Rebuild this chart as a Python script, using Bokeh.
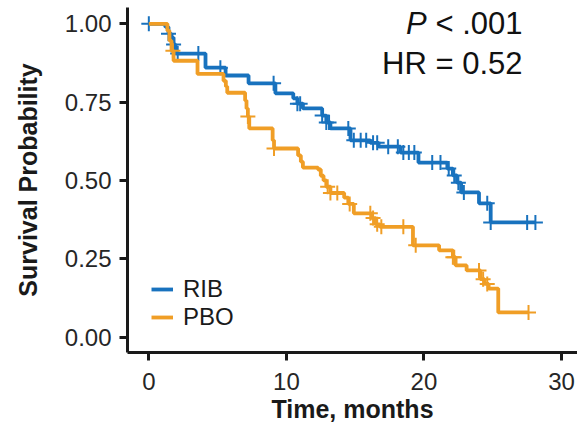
import numpy as np
from bokeh.plotting import figure
from bokeh.models import Range1d, Legend, LegendItem, Label, FixedTicker, NumeralTickFormatter
from bokeh.embed import file_html
from bokeh.resources import INLINE

# ---- data ----
rib_time = [0, 1.2, 1.43, 1.65, 1.8, 1.94, 4.12, 5.58, 7.25, 9.2, 10.5, 10.8, 11.2,
            12.6, 12.9, 13.2, 14.66, 16.1, 16.7, 18.3, 19.6, 21.7, 22.1, 22.4, 22.7,
            24.0, 24.85]
rib_surv = [1.0, 0.99, 0.968, 0.956, 0.934, 0.905, 0.86, 0.835, 0.81, 0.778, 0.762,
            0.745, 0.73, 0.707, 0.685, 0.666, 0.628, 0.62, 0.608, 0.589, 0.557, 0.538,
            0.516, 0.493, 0.462, 0.427, 0.366]
rib_end = 28.1
rib_cens = [0, 1.43, 1.8, 2.1, 3.6, 5.2, 9.07, 10.8, 11.0, 12.6, 12.9, 13.1, 14.5,
            14.9, 15.4, 15.8, 16.3, 16.6, 17.4, 18.1, 18.5, 18.9, 19.3, 20.6, 21.2,
            21.8, 22.2, 22.5, 22.9, 24.6, 24.85, 27.5, 28.1]

pbo_time = [0, 1.35, 1.5, 1.65, 1.8, 3.54, 5.43, 5.6, 5.7, 7.0, 7.1, 7.2, 7.3, 9.0,
            9.1, 10.85, 11.05, 11.2, 12.3, 12.5, 12.7, 12.9, 13.2, 14.2, 14.5, 14.9,
            16.2, 16.5, 16.8, 19.2, 21.1, 22.1, 22.3, 23.1, 24.1, 24.4, 24.7, 25.4]
pbo_surv = [1.0, 0.978, 0.946, 0.914, 0.882, 0.84, 0.818, 0.80, 0.78, 0.755, 0.73,
            0.704, 0.666, 0.628, 0.602, 0.58, 0.56, 0.541, 0.535, 0.515, 0.50, 0.48,
            0.46, 0.445, 0.425, 0.395, 0.38, 0.36, 0.352, 0.293, 0.277, 0.255, 0.229,
            0.213, 0.185, 0.17, 0.155, 0.079]
pbo_end = 27.6
pbo_cens = [1.75, 7.2, 9.1, 13.0, 13.2, 13.7, 14.6, 16.1, 16.3, 16.6, 16.9, 18.5,
            19.4, 22.1, 22.2, 24.0, 24.3, 24.6, 27.6]

groups = ["RIB", "PBO"]
x_ticks = [0, 10, 20, 30]
y_ticks = [0, 0.25, 0.5, 0.75, 1.0]
p_text = "P"
p_rest = "< .001"
hr_text = "HR = 0.52"

BLUE = "#1872BE"
ORANGE = "#F09E26"
FONT = "Liberation Sans"


def step_xy(times, surv, end):
    return list(times) + [end], list(surv) + [surv[-1]]


def cens_y(times, surv, cens):
    idx = np.searchsorted(np.array(times), np.array(cens), side="right") - 1
    return [surv[i] for i in idx]


p = figure(width=577, height=433, output_backend="svg", toolbar_location=None,
           x_range=Range1d(-1.55, 31.16), y_range=Range1d(-0.049, 1.052),
           min_border_left=127, min_border_right=0, min_border_top=7,
           min_border_bottom=81)

p.xgrid.visible = False
p.ygrid.visible = False
p.outline_line_color = None
p.background_fill_color = "white"
p.border_fill_color = "white"

renderers = []
for times, surv, end, cens, col in [(rib_time, rib_surv, rib_end, rib_cens, BLUE),
                                    (pbo_time, pbo_surv, pbo_end, pbo_cens, ORANGE)]:
    sx, sy = step_xy(times, surv, end)
    r = p.step(sx, sy, mode="after", line_width=3.8, line_color=col)
    p.scatter(cens, cens_y(times, surv, cens), marker="cross", size=15,
              line_width=2, line_color=col)
    renderers.append(r)

# axes
for ax in (p.xaxis[0], p.yaxis[0]):
    ax.axis_line_width = 3
    ax.axis_line_color = "#1a1a1a"
    ax.major_tick_line_width = 3
    ax.major_tick_line_color = "#1a1a1a"
    ax.major_tick_out = 8
    ax.major_tick_in = 0
    ax.minor_tick_line_color = None
    ax.major_label_text_font = FONT
    ax.major_label_text_font_size = "24px"
    ax.major_label_text_color = "#262626"
    ax.axis_label_text_font = FONT
    ax.axis_label_text_font_size = "25px"
    ax.axis_label_text_font_style = "bold"
    ax.axis_label_text_color = "#1a1a1a"

p.xaxis.ticker = FixedTicker(ticks=x_ticks)
p.yaxis.ticker = FixedTicker(ticks=y_ticks)
p.yaxis.formatter = NumeralTickFormatter(format="0.00")
p.xaxis.axis_label = "Time, months"
p.yaxis.axis_label = "Survival Probability"
p.xaxis.major_label_standoff = 12
p.xaxis.axis_label_standoff = 2
p.yaxis.major_label_standoff = 8
p.yaxis.axis_label_standoff = 20

legend = Legend(items=[LegendItem(label=g, renderers=[r]) for g, r in zip(groups, renderers)],
                location=(24, 21))
legend.background_fill_alpha = 0
legend.border_line_alpha = 0
legend.padding = 0
legend.margin = 0
legend.spacing = -6
legend.glyph_width = 22
legend.glyph_height = 22
legend.label_height = 22
legend.label_standoff = 10
legend.label_text_font = FONT
legend.label_text_font_size = "24px"
legend.label_text_color = "#1a1a1a"
p.add_layout(legend)

# annotation
ANN = dict(text_baseline="alphabetic", text_font=FONT, text_font_size="31px",
           text_color="#111111")
p.add_layout(Label(x=27.16, y=1.001, text=p_rest, text_align="right", **ANN))
p.add_layout(Label(x=20.2, y=1.001, text=p_text, text_align="right",
                   text_font_style="italic", **ANN))
p.add_layout(Label(x=27.16, y=0.873, text=hr_text, text_align="right", **ANN))

open("out.html", "w").write(file_html(p, INLINE))
